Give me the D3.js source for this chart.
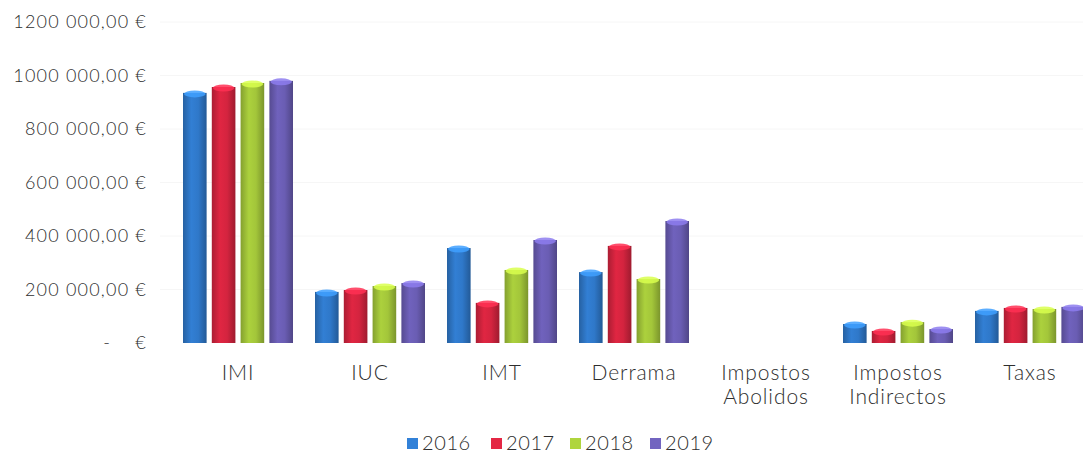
<!DOCTYPE html>
<html>
<head>
<meta charset="utf-8">
<script src="https://cdn.jsdelivr.net/npm/d3@7"></script>
<style>
  body { margin: 0; background: #fff; }
  text { font-family: "Lato", "Open Sans", sans-serif; font-weight: 300; fill: #2e2e2e; }
</style>
</head>
<body>
<div id="chart"></div>
<script>
// data
var categories = ["IMI", "IUC", "IMT", "Derrama", "Impostos Abolidos", "Impostos Indirectos", "Taxas"];
var years = ["2016", "2017", "2018", "2019"];
var v2016 = [935000, 191000, 355000, 265000, 0, 71000, 120000];
var v2017 = [957000, 198000, 150000, 363000, 0, 45000, 131000];
var v2018 = [972000, 213000, 273000, 239000, 0, 78000, 127000];
var v2019 = [980000, 224000, 385000, 456000, 0, 52000, 135000];
var yTicks = [0, 200000, 400000, 600000, 800000, 1000000, 1200000];
var colors = ["#2f78c9", "#d4243f", "#a3c63a", "#6a5db3"];

var series = [v2016, v2017, v2018, v2019];

var width = 1083, height = 455;

var svg = d3.select("#chart").append("svg")
    .attr("width", width)
    .attr("height", height);

// set the ranges
var y = d3.scaleLinear().domain([0, 1200000]).range([343, 22]);
var x = d3.scaleBand().domain(categories).range([172, 172 + 132 * 7]).padding(0);
var x1 = d3.scaleBand().domain(years).range([11, 121]).paddingInner(0.18).paddingOuter(0);

// gradients for the cylinder look
var defs = svg.append("defs");
colors.forEach(function(c, i) {
  var g = defs.append("linearGradient").attr("id", "grad" + i)
      .attr("x1", "0%").attr("x2", "100%").attr("y1", "0%").attr("y2", "0%");
  var base = d3.color(c);
  g.append("stop").attr("offset", "0%").attr("stop-color", base.darker(0.6));
  g.append("stop").attr("offset", "35%").attr("stop-color", base.brighter(0.15));
  g.append("stop").attr("offset", "65%").attr("stop-color", base);
  g.append("stop").attr("offset", "100%").attr("stop-color", base.darker(0.8));
});

// faint grid
svg.append("g")
  .selectAll("line")
  .data(yTicks.slice(1))
  .enter().append("line")
    .attr("x1", 160).attr("x2", width)
    .attr("y1", function(d) { return y(d); })
    .attr("y2", function(d) { return y(d); })
    .attr("stroke", "#f6f6f6");

// Y axis labels (accounting format)
var yAxis = svg.append("g")
    .attr("transform", "translate(147,0)")
    .call(d3.axisLeft(y).tickValues(yTicks).tickSize(0).tickPadding(0)
      .tickFormat(function(d) {
        if (d === 0) return "-\u00a0\u00a0\u00a0\u00a0€";
        var s = d3.format(",.2f")(d).replace(/,/g, " ").replace(".", ",");
        s = s.replace(/^(\d) (\d{3}) /, "$1$2 ");
        return s + " €";
      }));
yAxis.select(".domain").remove();
yAxis.selectAll("text")
    .style("font-size", "18px")
    .style("font-family", "Lato, sans-serif")
    .style("font-weight", "300")
    .attr("fill", "#2e2e2e")
    .attr("letter-spacing", "1.2px");

// bars
var groups = svg.append("g").selectAll("g")
    .data(categories)
    .enter().append("g")
    .attr("transform", function(d) { return "translate(" + x(d) + ",0)"; });

groups.each(function(cat, ci) {
  var g = d3.select(this);
  years.forEach(function(yr, si) {
    var val = series[si][ci];
    if (val <= 0) return;
    var bx = x1(yr), bw = x1.bandwidth();
    var top = y(val);
    g.append("rect")
      .attr("x", bx).attr("y", top)
      .attr("width", bw).attr("height", y(0) - top)
      .attr("fill", "url(#grad" + si + ")");
    g.append("ellipse")
      .attr("cx", bx + bw / 2).attr("cy", top + 1)
      .attr("rx", bw / 2 - 1).attr("ry", 3.5)
      .attr("fill", d3.color(colors[si]).brighter(0.8))
      .attr("opacity", 0.85);
  });
});

// category labels
var labels = svg.append("g").selectAll("text")
    .data(categories)
    .enter().append("text")
    .attr("x", function(d) { return x(d) + x.bandwidth() / 2; })
    .attr("y", 380)
    .attr("text-anchor", "middle")
    .style("font-size", "21px")
    .attr("letter-spacing", "0.9px");

labels.each(function(d) {
  var t = d3.select(this);
  var words = d.split(" ");
  words.forEach(function(w, i) {
    t.append("tspan")
      .attr("x", x(d) + x.bandwidth() / 2)
      .attr("dy", i === 0 ? 0 : 24)
      .text(w);
  });
});

// legend
var legendX = [407, 491, 570, 650];
var legend = svg.append("g").selectAll("g")
    .data(years)
    .enter().append("g")
    .attr("transform", function(d, i) { return "translate(" + legendX[i] + ",443)"; });

legend.append("rect")
  .attr("x", 0).attr("y", -5)
  .attr("width", 11).attr("height", 11)
  .attr("fill", function(d, i) { return d3.color(colors[i]).brighter(0.2); });

legend.append("text")
  .attr("x", 15).attr("y", 0)
  .attr("dy", "0.35em")
  .style("font-size", "20px")
  .attr("letter-spacing", "0.6px")
  .text(function(d) { return d; });
</script>
</body>
</html>
